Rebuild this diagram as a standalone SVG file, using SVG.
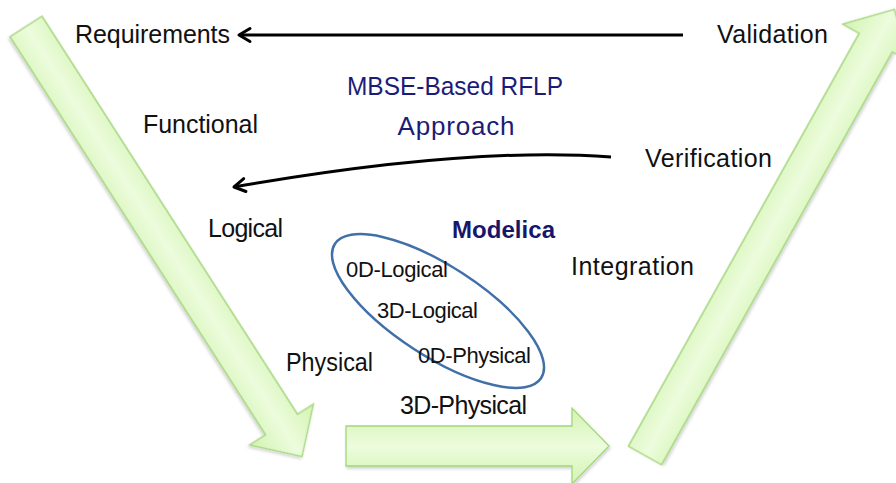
<svg xmlns="http://www.w3.org/2000/svg" width="896" height="483" viewBox="0 0 896 483">
<style>
  .lbl{font-family:"Liberation Sans",Arial,sans-serif;font-size:25px;fill:#111}
  .sm{font-family:"Liberation Sans",Arial,sans-serif;font-size:22px;fill:#111}
  .navy{font-family:"Liberation Sans",Arial,sans-serif;font-size:26px;fill:#1c1c78}
  .bold{font-size:24px;font-weight:bold;fill:#17176a}
  .big{fill:url(#gg);stroke:#a3d67c;stroke-width:1.3;filter:url(#sh)}
  .conn{fill:none;stroke:#000;stroke-width:3}
</style>
<defs>
  <linearGradient id="gg" gradientUnits="userSpaceOnUse" x1="0" y1="-38" x2="0" y2="38">
    <stop offset="0" stop-color="#d3f3b0"/>
    <stop offset="0.5" stop-color="#ecfcdd"/>
    <stop offset="1" stop-color="#d3f3b0"/>
  </linearGradient>
  <filter id="sh" x="-10%" y="-10%" width="120%" height="120%">
    <feDropShadow dx="1" dy="2" stdDeviation="1.5" flood-color="#000" flood-opacity="0.18"/>
  </filter>
  <marker id="ah" markerUnits="userSpaceOnUse" orient="auto" refX="0" refY="0" markerWidth="30" markerHeight="30" overflow="visible">
    <path d="M-11,-6.5 L0,0 L-11,6.5" fill="none" stroke="#000" stroke-width="3" stroke-linejoin="round" stroke-linecap="round"/>
  </marker>
</defs>
<rect width="896" height="483" fill="#fff"/>

<g id="arrow-down">
  <polygon class="big" transform="translate(26,26.5) rotate(57.3)" points="0,-19 473,-19 473,-38 511,0 473,38 473,19 0,19"/>
</g>
<g id="arrow-across">
  <polygon class="big" transform="translate(346,446)" points="0,-20 226,-20 226,-38 263,0 226,38 226,20 0,20"/>
</g>
<g id="arrow-up">
  <polygon class="big" transform="translate(645,455.5) rotate(-60.8)" points="0,-19 473,-19 473,-38 511,0 473,38 473,19 0,19"/>
</g>

<g id="connectors">
  <path class="conn" d="M683,35 L239,35" marker-end="url(#ah)"/>
  <path class="conn" d="M611,157 Q470,146 234,187" marker-end="url(#ah)"/>
</g>

<g id="requirements"><text class="lbl" x="75" y="43" textLength="155">Requirements</text></g>
<g id="validation"><text class="lbl" x="717" y="43" textLength="111">Validation</text></g>
<g id="title">
  <text class="navy" x="455" y="95" text-anchor="middle" textLength="216" lengthAdjust="spacingAndGlyphs">MBSE-Based RFLP</text>
  <text class="navy" x="456" y="135" text-anchor="middle" textLength="117">Approach</text>
</g>
<g id="functional"><text class="lbl" x="143" y="133" textLength="115">Functional</text></g>
<g id="verification"><text class="lbl" x="645" y="167" textLength="127">Verification</text></g>
<g id="logical"><text class="lbl" x="208" y="237" textLength="75">Logical</text></g>
<g id="integration"><text class="lbl" x="571" y="275" textLength="123">Integration</text></g>
<g id="physical"><text class="lbl" x="286" y="371" textLength="87" lengthAdjust="spacingAndGlyphs">Physical</text></g>
<g id="physical3d"><text class="lbl" x="400" y="414" textLength="127">3D-Physical</text></g>

<g id="modelica">
  <text class="navy bold" x="452" y="238" textLength="103">Modelica</text>
  <ellipse cx="438" cy="311" rx="123" ry="45" transform="rotate(33 438 311)" fill="none" stroke="#4170a8" stroke-width="2.5"/>
  <text class="sm" x="346" y="277" textLength="102">0D-Logical</text>
  <text class="sm" x="377" y="318" textLength="101">3D-Logical</text>
  <text class="sm" x="418" y="363" textLength="113">0D-Physical</text>
</g>
</svg>
